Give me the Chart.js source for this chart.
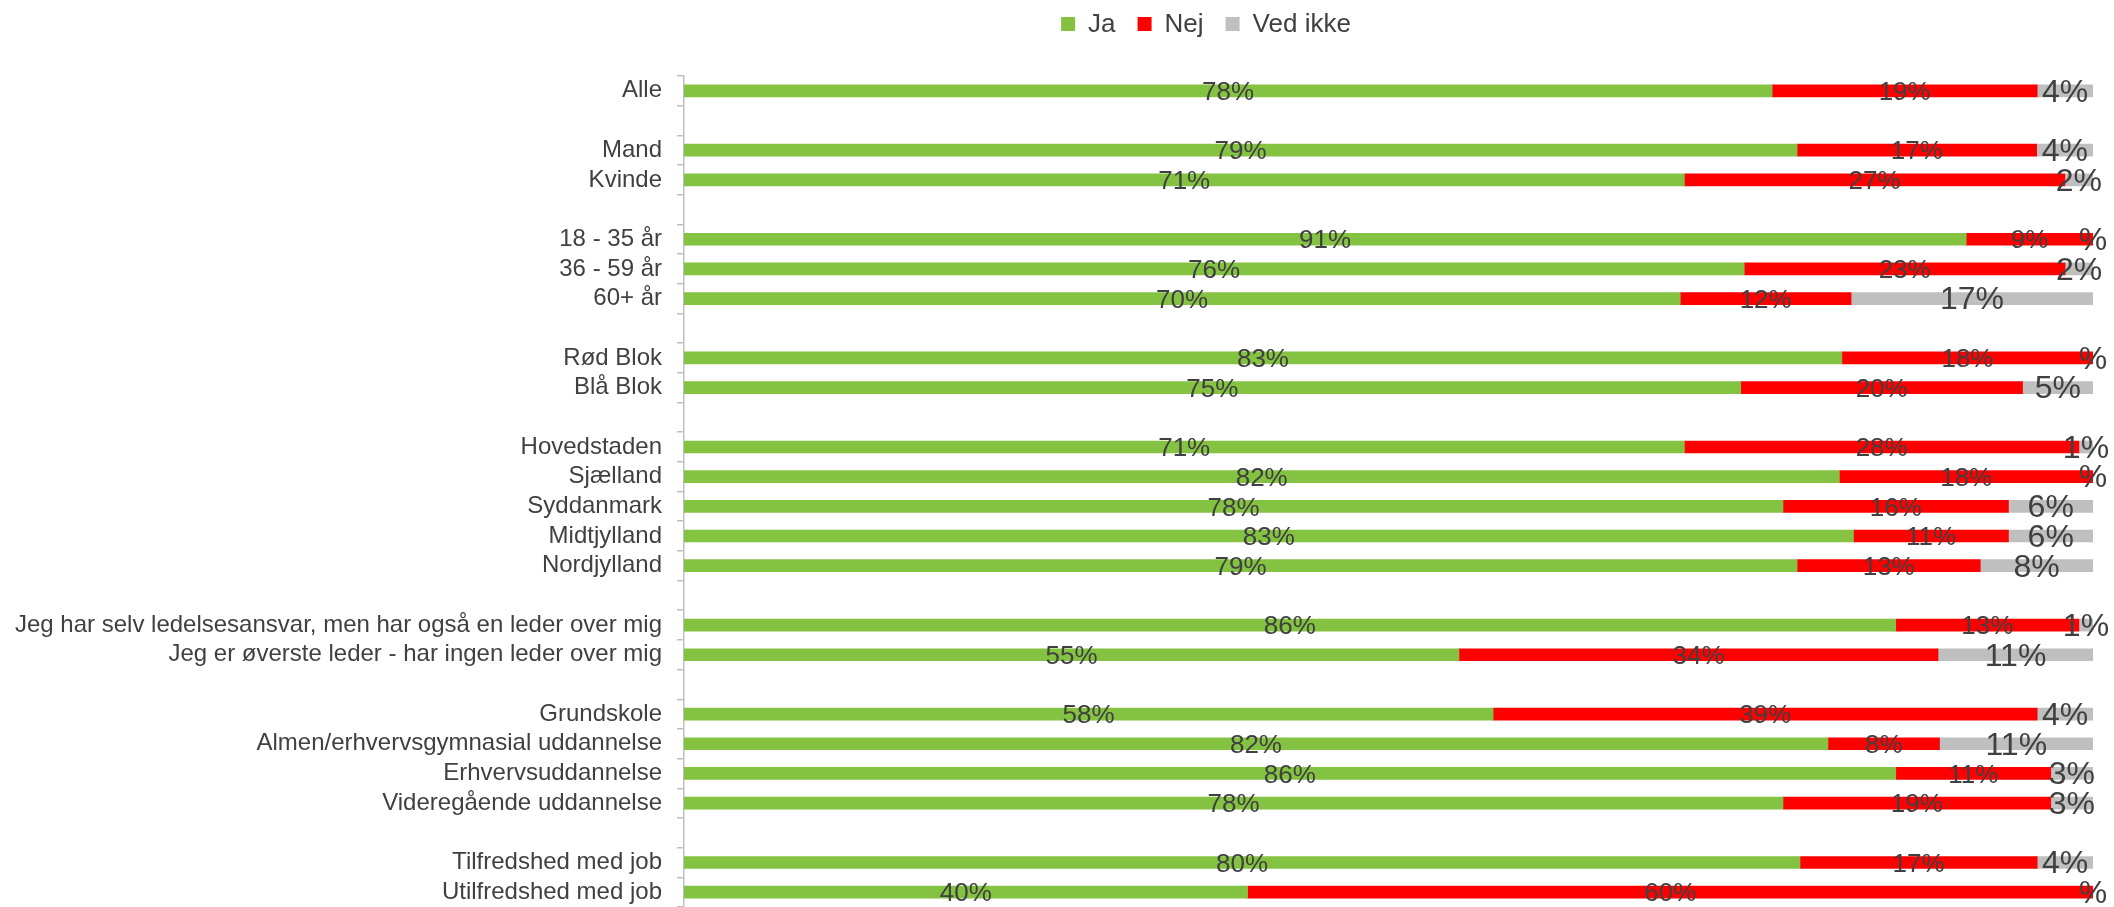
<!DOCTYPE html>
<html>
<head>
<meta charset="utf-8">
<script src="https://cdn.jsdelivr.net/npm/chart.js@4.4.1/dist/chart.umd.min.js"></script>
<style>
  html, body { margin: 0; padding: 0; background: #fff; overflow: hidden; }
  #wrap { width: 2114px; height: 907px; position: relative; }
</style>
</head>
<body>
<div id="wrap"><canvas id="chart"></canvas></div>
<script>
// kategorier (tomme strenge = mellemrum mellem grupper)
const categories = [
  'Alle', '',
  'Mand', 'Kvinde', '',
  '18 - 35 år', '36 - 59 år', '60+ år', '',
  'Rød Blok', 'Blå Blok', '',
  'Hovedstaden', 'Sjælland', 'Syddanmark', 'Midtjylland', 'Nordjylland', '',
  'Jeg har selv ledelsesansvar, men har også en leder over mig', 'Jeg er øverste leder - har ingen leder over mig', '',
  'Grundskole', 'Almen/erhvervsgymnasial uddannelse', 'Erhvervsuddannelse', 'Videregående uddannelse', '',
  'Tilfredshed med job', 'Utilfredshed med job'
];

const ja = [78, null, 79, 71, null, 91, 76, 70, null, 83, 75, null, 71, 82, 78, 83, 79, null, 86, 55, null, 58, 82, 86, 78, null, 80, 40];
const nej = [19, null, 17, 27, null, 9, 23, 12, null, 18, 20, null, 28, 18, 16, 11, 13, null, 13, 34, null, 39, 8, 11, 19, null, 17, 60];
const vedIkke = [4, null, 4, 2, null, 0, 2, 17, null, 0, 5, null, 1, 0, 6, 6, 8, null, 1, 11, null, 4, 11, 3, 3, null, 4, 0];

const seriesNames = ['Ja', 'Nej', 'Ved ikke'];
const seriesColors = ['#84c241', '#ff0000', '#bfbfbf'];
const textColor = '#404040';
const fontFamily = '"Liberation Sans", Arial, sans-serif';

// 100% stablet: hver række skaleres til 100
function share(arr, i) {
  if (arr[i] === null) return null;
  const sum = ja[i] + nej[i] + vedIkke[i];
  return arr[i] / sum * 100;
}
const rawSeries = [ja, nej, vedIkke];
const datasets = rawSeries.map((arr, s) => ({
  label: seriesNames[s],
  data: arr.map((v, i) => share(arr, i)),
  raw: arr,
  backgroundColor: seriesColors[s],
  borderWidth: 0,
  barThickness: 12
}));

// etiketter midt i hvert segment
const segmentLabels = {
  id: 'segmentLabels',
  afterDatasetsDraw(chart) {
    const ctx = chart.ctx;
    ctx.save();
    ctx.fillStyle = textColor;
    ctx.textAlign = 'center';
    ctx.textBaseline = 'middle';
    chart.data.datasets.forEach((ds, di) => {
      const meta = chart.getDatasetMeta(di);
      ctx.font = (di === 2 ? '32px ' : '26px ') + fontFamily;
      meta.data.forEach((bar, i) => {
        const v = ds.raw[i];
        if (v === null) return;
        const cx = (bar.x + bar.base) / 2;
        ctx.fillText(v === 0 ? '%' : v + '%', cx, bar.y + 2);
      });
    });
    ctx.restore();
  }
};

// forklaring øverst
const topLegend = {
  id: 'topLegend',
  afterDraw(chart) {
    const ctx = chart.ctx;
    ctx.save();
    ctx.font = '26px ' + fontFamily;
    const box = 14, gapBox = 13, gapItem = 22;
    let total = 0;
    seriesNames.forEach((n, k) => {
      total += box + gapBox + ctx.measureText(n).width + (k < seriesNames.length - 1 ? gapItem : 0);
    });
    let x = 1206 - total / 2;
    const y = 24;
    ctx.textBaseline = 'middle';
    ctx.textAlign = 'left';
    seriesNames.forEach((n, k) => {
      ctx.fillStyle = seriesColors[k];
      ctx.fillRect(x, y - box / 2, box, box);
      x += box + gapBox;
      ctx.fillStyle = textColor;
      ctx.fillText(n, x, y + 1);
      x += ctx.measureText(n).width + gapItem;
    });
    ctx.restore();
  }
};

new Chart(document.getElementById('chart'), {
  type: 'bar',
  data: { labels: categories, datasets: datasets },
  options: {
    indexAxis: 'y',
    responsive: true,
    maintainAspectRatio: false,
    animation: false,
    layout: { padding: { top: 76, right: 21, bottom: -3, left: 0 } },
    plugins: {
      legend: { display: false },
      tooltip: { enabled: false }
    },
    scales: {
      x: {
        stacked: true,
        min: 0,
        max: 100,
        display: false
      },
      y: {
        stacked: true,
        afterFit: function(scale) {
          scale.width = 684;
          scale.paddingTop = 0;
          scale.paddingBottom = 0;
        },
        grid: {
          drawOnChartArea: false,
          drawTicks: true,
          tickLength: 7,
          color: '#bfbfbf',
          lineWidth: 1.5
        },
        border: { color: '#bfbfbf', width: 1.5 },
        ticks: {
          color: textColor,
          padding: 15,
          autoSkip: false,
          font: { family: fontFamily, size: 24 }
        }
      }
    }
  },
  plugins: [segmentLabels, topLegend]
});
</script>
</body>
</html>
